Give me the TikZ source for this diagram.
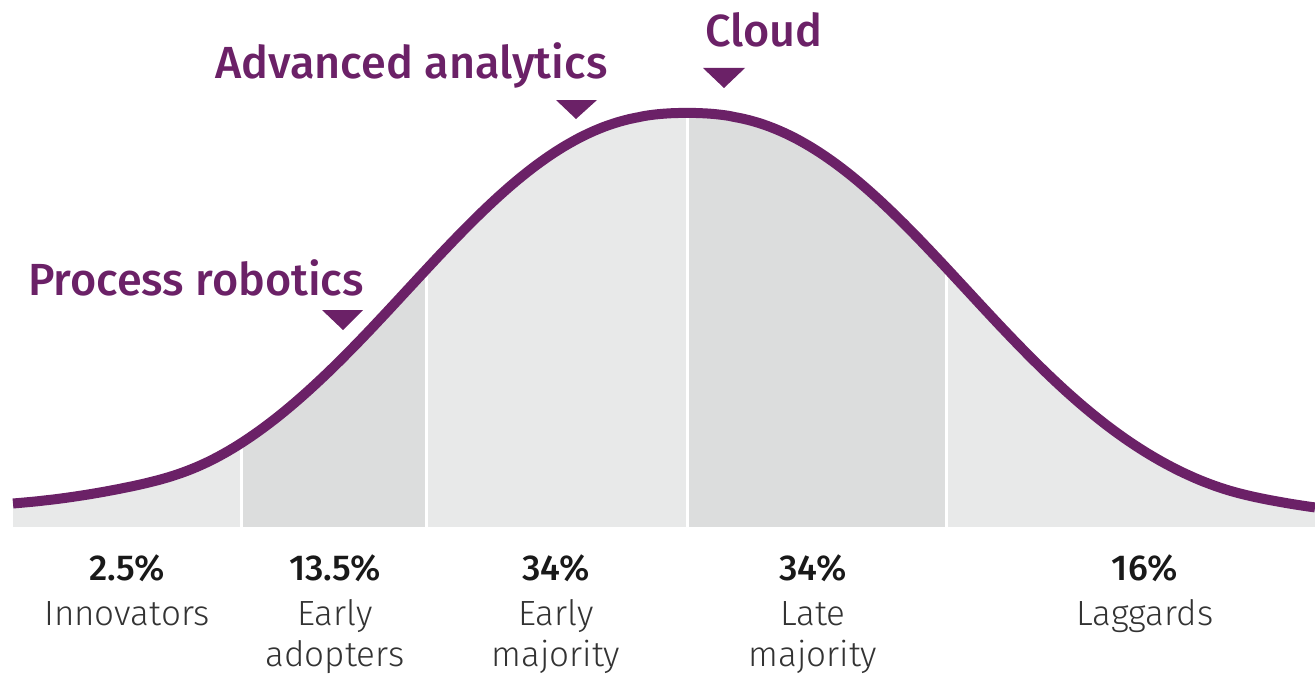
\documentclass[tikz,border=0pt]{standalone}
\usepackage{fontspec}
\setmainfont{Fira Sans Light}[BoldFont={Fira Sans Medium}]
\definecolor{plum}{HTML}{6B2167}
\definecolor{lightgr}{HTML}{E8E9E9}
\definecolor{darkgr}{HTML}{DCDDDD}

\begin{document}
\begin{tikzpicture}[x=1pt, y=-1pt, inner sep=0pt,
  declare function={bell(\x)=522-409*exp(-pow((abs(\x-687)+0.01)/358,2.3))
    -13/(1+exp(min((\x-160)/30,9)))-4/(1+exp(min((1250-\x)/20,9)));},
  title/.style = {anchor=base west, text=plum, font=\fontsize{45}{54}\selectfont\bfseries},
  pct/.style = {anchor=base, text=black!90, font=\fontsize{36}{42}\selectfont\bfseries},
  grp/.style = {anchor=base, align=center, text=black!80, font=\fontsize{35}{41}\selectfont},
  sep/.style = {white, line width=3pt}]
\useasboundingbox (0,0) rectangle (1315,677);

% shaded area under the curve
\begin{scope}
  \clip (13,527) -- plot[domain=13:1315, samples=261] (\x,{bell(\x)}) -- (1315,527) -- cycle;
  \fill[lightgr] (13,0) rectangle (1315,527);
  \fill[darkgr] (241,0) rectangle (426,527);
  \fill[darkgr] (687,0) rectangle (946,527);
  \draw[sep] (241,0) -- (241,527);
  \draw[sep] (426,0) -- (426,527);
  \draw[sep] (687,0) -- (687,527);
  \draw[sep] (946,0) -- (946,527);
\end{scope}

% the curve
\draw[plum, line width=10pt, line join=round] plot[domain=13:1315, samples=261] (\x,{bell(\x)});

% markers
\node[title] (t0) at (28,295) {Process robotics};
\node[title] (t1) at (215,78) {Advanced analytics};
\node[title] (t2) at (705,47) {Cloud};
\fill[plum] (322,310) -- (363,310) -- (343,330) -- cycle;
\fill[plum] (556,100) -- (597,100) -- (576,119) -- cycle;
\fill[plum] (703,68) -- (745,68) -- (724,88) -- cycle;

% shares
\node[pct] (p0) at (127,580) {2.5\%};
\node[pct] (p1) at (335,580) {13.5\%};
\node[pct] (p2) at (556,580) {34\%};
\node[pct] (p3) at (813,580) {34\%};
\node[pct] (p4) at (1145,580) {16\%};
\node[grp] (n0) at (127,625) {Innovators};
\node[grp] (n1) at (335,666) {Early\\adopters};
\node[grp] (n2) at (556,666) {Early\\majority};
\node[grp] (n3) at (813,666) {Late\\majority};
\node[grp] (n4) at (1145,625) {Laggards};
\end{tikzpicture}
\end{document}
